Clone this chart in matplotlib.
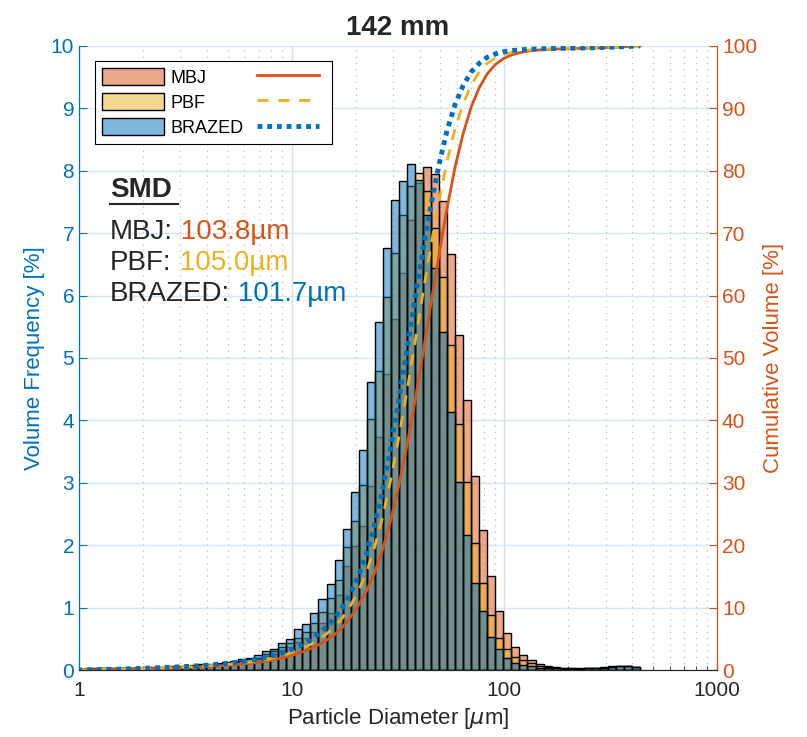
import numpy as np
import matplotlib
matplotlib.use('Agg')
import matplotlib.pyplot as plt
from matplotlib.colors import to_rgba
from matplotlib.patches import Patch
from matplotlib.lines import Line2D

plt.rcParams['font.family'] = ['Liberation Sans', 'DejaVu Sans']

# size classes: log-spaced bins, k = -25 .. 44
first_bin = -25
n_bins = 70
log_start = 0.937
log_step = 0.0378

# volume frequency [%] per size class
mbj = [0.01, 0.02, 0.02, 0.02, 0.02, 0.03, 0.03, 0.03, 0.03, 0.04, 0.04, 0.04,
       0.05, 0.05, 0.06, 0.06, 0.07, 0.08, 0.09, 0.10, 0.12, 0.14, 0.17, 0.22,
       0.26, 0.32, 0.37, 0.45, 0.51, 0.61, 0.75, 0.91, 1.20, 1.66, 1.98, 2.30,
       2.95, 3.74, 4.74, 5.62, 6.36, 7.21, 7.80, 8.06, 7.95, 7.51, 6.67, 5.37,
       4.32, 3.11, 2.24, 1.51, 0.94, 0.59, 0.37, 0.24,
       0.16, 0.10, 0.07, 0.05, 0.04, 0.03, 0.03, 0.03, 0.04, 0.05, 0.06, 0.07, 0.07, 0.05]
pbf = [0.02, 0.02, 0.02, 0.03, 0.03, 0.03, 0.03, 0.04, 0.04, 0.04, 0.05, 0.05,
       0.05, 0.06, 0.07, 0.08, 0.08, 0.09, 0.11, 0.12, 0.14, 0.17, 0.20, 0.26,
       0.30, 0.37, 0.44, 0.52, 0.61, 0.76, 0.93, 1.15, 1.44, 1.97, 2.39, 2.96,
       4.02, 4.79, 5.97, 6.69, 7.29, 7.75, 7.97, 7.68, 7.08, 6.29, 5.21, 3.95,
       3.01, 2.03, 1.39, 0.88, 0.52, 0.34, 0.21, 0.16,
       0.11, 0.07, 0.05, 0.04, 0.03, 0.03, 0.02, 0.03, 0.03, 0.04, 0.05, 0.06, 0.06, 0.05]
brazed = [0.02, 0.03, 0.03, 0.03, 0.03, 0.04, 0.04, 0.04, 0.05, 0.05, 0.05, 0.06,
          0.06, 0.07, 0.08, 0.09, 0.10, 0.11, 0.13, 0.15, 0.17, 0.20, 0.24, 0.30,
          0.34, 0.43, 0.50, 0.66, 0.73, 0.92, 1.13, 1.38, 1.77, 2.26, 2.85, 3.53,
          4.62, 5.58, 6.77, 7.53, 7.83, 8.11, 7.85, 7.29, 6.45, 5.41, 4.14, 3.01,
          2.16, 1.39, 0.95, 0.53, 0.34, 0.19, 0.12, 0.08,
          0.06, 0.04, 0.03, 0.03, 0.02, 0.02, 0.02, 0.03, 0.03, 0.04, 0.05, 0.06, 0.06, 0.05]

names = ['MBJ', 'PBF', 'BRAZED']
smd = ['103.8µm', '105.0µm', '101.7µm']
colors = ['#D95319', '#EDB120', '#0072BD']

k = np.arange(first_bin, first_bin + n_bins + 1)
edges = 10 ** (log_start + log_step * k)

fig = plt.figure(figsize=(8.07, 7.37), dpi=100)
ax = fig.add_axes([0.0979, 0.0909, 0.7906, 0.8467])
ax2 = ax.twinx()

dark = '#262626'
for vals, c in zip([mbj, pbf, brazed], colors):
    ax.bar(edges[:-1], vals, width=np.diff(edges), align='edge',
           facecolor=to_rgba(c, 0.5), edgecolor='black', linewidth=1.0, zorder=2)

styles = [dict(linestyle='-', linewidth=2.0),
          dict(linestyle=(0, (4, 3.5)), linewidth=2.0),
          dict(linestyle=(0, (1, 1)), linewidth=3.5, dash_capstyle='butt')]
for vals, c, st in zip([mbj, pbf, brazed], colors, styles):
    v = np.array(vals)
    cum = np.concatenate([[0], np.cumsum(v) / v.sum() * 100])
    ax2.plot(edges, cum, color=c, **st)

ax.set_xscale('log')
ax.set_xlim(1, 1000)
ax.set_ylim(0, 10)
ax2.set_ylim(0, 100)
ax.set_xticks([1, 10, 100, 1000], labels=['1', '10', '100', '1000'])
ax.set_yticks(range(0, 11))
ax2.set_yticks(range(0, 101, 10))

ax.set_axisbelow(True)
ax.grid(which='major', axis='y', color='#D8E6F2', linewidth=1.0)
ax.grid(which='major', axis='x', color='#DEDEDE', linewidth=1.0)
ax.grid(which='minor', axis='x', color='#BDBDBD', linestyle=(0, (1, 4)), linewidth=0.9)

ax.tick_params(axis='x', which='both', direction='in', colors=dark, labelsize=15)
ax.tick_params(axis='x', which='major', length=6, pad=8)
ax.tick_params(axis='x', which='minor', length=3)
ax.tick_params(axis='y', direction='in', length=6, colors=colors[2], labelsize=15)
ax2.tick_params(axis='y', direction='in', length=6, colors=colors[0], labelsize=15)

for a in (ax, ax2):
    a.spines['top'].set_visible(False)
ax2.spines['left'].set_color(colors[2])
ax2.spines['right'].set_color(colors[0])
ax2.spines['bottom'].set_color(dark)
ax.spines['left'].set_color(colors[2])

ax.set_ylabel('Volume Frequency [%]', color=colors[2], fontsize=16)
ax2.set_ylabel('Cumulative Volume [%]', color=colors[0], fontsize=16)
ax.set_xlabel(r'Particle Diameter [$\mu$m]', color=dark, fontsize=16)
ax.set_title('142 mm', fontsize=20, fontweight='bold', color=dark, pad=8)

# legend: patches in first column, lines in second
handles = [Patch(facecolor=to_rgba(c, 0.5), edgecolor='black', linewidth=1.0) for c in colors]
handles += [Line2D([], [], color=c, **st) for c, st in zip(colors, styles)]
leg = ax2.legend(handles, names + ['', '', ''], ncol=2, loc='upper left',
                 bbox_to_anchor=(0.025, 0.976), fontsize=13, frameon=True, fancybox=False,
                 framealpha=1, edgecolor='black', handlelength=3.45, handleheight=1.05,
                 handletextpad=0.33, columnspacing=0.72, labelspacing=0.36,
                 borderpad=0.4, borderaxespad=0)
leg.get_frame().set_linewidth(0.8)

# SMD block
t = ax2.text(0.0486, 0.769, 'SMD', transform=ax2.transAxes, fontsize=20,
             fontweight='bold', color=dark, va='center', ha='left')
ax2.plot([0.0486, 0.155], [0.747, 0.747], transform=ax2.transAxes, color=dark,
         linewidth=1.5, clip_on=False)
ys = [0.702, 0.652, 0.603]
for n, s, c, y in zip(names, smd, colors, ys):
    tn = ax2.text(0.0486, y, n + ':', transform=ax2.transAxes, fontsize=20,
                  color=dark, va='center', ha='left')
    ax2.annotate(' ' + s, xy=(1, 0), xycoords=tn, va='bottom', ha='left',
                 fontsize=20, color=c)

fig.savefig('out.png', dpi=100)
